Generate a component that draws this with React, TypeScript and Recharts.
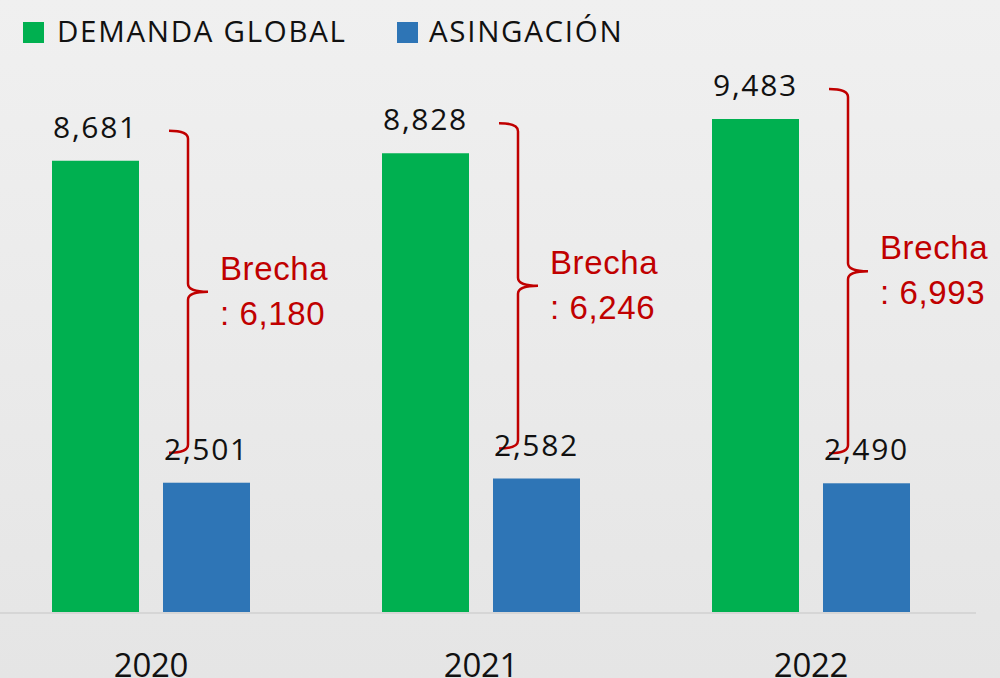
import { BarChart, Bar, XAxis, YAxis, LabelList } from 'recharts';

const years = ['2020', '2021', '2022'];
const demandaGlobal = [8681, 8828, 9483];
const asignacion = [2501, 2582, 2490];

const data = years.map((year, i) => ({
  year,
  demanda: demandaGlobal[i],
  asignacion: asignacion[i],
}));

const GREEN = '#00b050';
const BLUE = '#2e75b6';
const RED = '#c00000';
const FONT = '"Open Sans", "Noto Sans", sans-serif';

const fmt = (v: number) => v.toLocaleString('en-US');

// blue bar + the red brace that spans from the green label to the blue label
const BarWithBrace = (props: any) => {
  const { x, y, width, height, payload, fill } = props;
  const perUnit = height / payload.asignacion;
  const base = y + height;
  const greenTop = base - payload.demanda * perUnit;
  const top = greenTop - 30;
  const bottom = y - 30;
  const mid = (top + bottom) / 2;
  const x0 = x + 6;
  const x1 = x0 + 19;
  const x2 = x0 + 39;
  const r = 8;
  const d = `M${x0},${top} Q${x1},${top} ${x1},${top + r} L${x1},${mid - r} Q${x1},${mid} ${x2},${mid} Q${x1},${mid} ${x1},${mid + r} L${x1},${bottom - r} Q${x1},${bottom} ${x0},${bottom}`;
  const gap = payload.demanda - payload.asignacion;
  const tx = x + 57;
  return (
    <g>
      <rect x={x} y={y} width={width} height={height} fill={fill} />
      <path d={d} fill="none" stroke={RED} strokeWidth={2.5} />
      <text
        x={tx}
        y={mid - 12}
        fill={RED}
        fontSize={33}
        fontFamily='"Liberation Sans", Arial, sans-serif'
        letterSpacing={0.6}
      >
        <tspan x={tx}>Brecha</tspan>
        <tspan x={tx} dy={45}>{`: ${fmt(gap)}`}</tspan>
      </text>
    </g>
  );
};

const legendItems = [
  { label: 'DEMANDA GLOBAL', color: GREEN, left: 23, textLeft: 57 },
  { label: 'ASINGACIÓN', color: BLUE, left: 397, textLeft: 429 },
];

export default function App() {
  return (
    <div
      style={{
        position: 'fixed',
        left: 0,
        top: 0,
        width: 1000,
        height: 678,
        overflow: 'hidden',
        background: 'linear-gradient(#f0f0f0, #e5e5e5)',
      }}
    >
      <div style={{ position: 'absolute', left: -14, top: 0 }}>
        <BarChart
          width={1004}
          height={678}
          data={data}
          margin={{ top: 40, right: 14, left: 0, bottom: 0 }}
          barSize={87}
          barGap={24}
        >
          <XAxis
            dataKey="year"
            height={65}
            tickLine={false}
            tickSize={0}
            tickMargin={41}
            axisLine={{ stroke: '#d6d6d6', strokeWidth: 2 }}
            tick={{ fill: '#111', fontSize: 33, fontFamily: FONT, letterSpacing: -0.3 }}
          />
          <YAxis hide domain={[0, 11000]} />
          <Bar dataKey="demanda" fill={GREEN} isAnimationActive={false}>
            <LabelList
              dataKey="demanda"
              position="top"
              offset={23}
              formatter={(v: any) => fmt(Number(v))}
              fill="#111"
              fontSize={30}
              fontFamily={FONT}
              letterSpacing={1.7}
            />
          </Bar>
          <Bar dataKey="asignacion" fill={BLUE} shape={BarWithBrace} isAnimationActive={false}>
            <LabelList
              dataKey="asignacion"
              position="top"
              offset={23}
              formatter={(v: any) => fmt(Number(v))}
              fill="#111"
              fontSize={30}
              fontFamily={FONT}
              letterSpacing={1.7}
            />
          </Bar>
        </BarChart>
      </div>
      {legendItems.map((item) => (
        <div key={item.label}>
          <div
            style={{
              position: 'absolute',
              left: item.left,
              top: 22,
              width: 21,
              height: 21,
              background: item.color,
            }}
          />
          <div
            style={{
              position: 'absolute',
              left: item.textLeft,
              top: 11,
              fontFamily: FONT,
              fontSize: 29.5,
              letterSpacing: 1.7,
              lineHeight: '40px',
              color: '#111',
              whiteSpace: 'nowrap',
            }}
          >
            {item.label}
          </div>
        </div>
      ))}
    </div>
  );
}
